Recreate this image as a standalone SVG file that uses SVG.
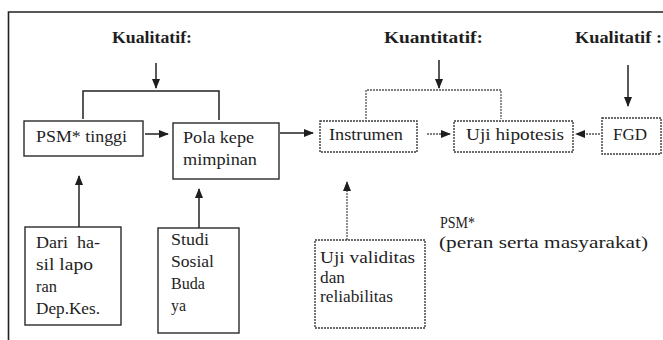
<svg xmlns="http://www.w3.org/2000/svg" width="663" height="340" viewBox="0 0 663 340">
<defs>
<marker id="ah" markerWidth="10" markerHeight="8" refX="9" refY="4" orient="auto" markerUnits="userSpaceOnUse">
<path d="M0,0 L10,4 L0,8 Z" fill="#1e1e1e"/>
</marker>
<style>
.t{font-family:'Liberation Serif','Times New Roman',serif;font-size:16.5px;fill:#1e1e1e}
.b{font-weight:bold;font-size:16.5px}
.box{fill:none;stroke:#2a2a2a;stroke-width:1.4}
.dbox{fill:none;stroke:#3a3a3a;stroke-width:1.4;stroke-dasharray:2 1}
.ln{fill:none;stroke:#222;stroke-width:1.5}
.dl{fill:none;stroke:#555;stroke-width:1.3;stroke-dasharray:2 1}
</style>
</defs>
<rect width="663" height="340" fill="#ffffff"/>
<g id="frame">
<path d="M8.5,340 V12 H663" fill="none" stroke="#222" stroke-width="1.6"/>
</g>
<g id="labels">
<text class="t b" x="112" y="43" textLength="80" lengthAdjust="spacingAndGlyphs">Kualitatif:</text>
<text class="t b" x="384" y="43" textLength="99" lengthAdjust="spacingAndGlyphs">Kuantitatif:</text>
<text class="t b" x="575" y="43" textLength="87" lengthAdjust="spacingAndGlyphs">Kualitatif :</text>
<text class="t" x="440" y="228" textLength="35" lengthAdjust="spacingAndGlyphs">PSM*</text>
<text class="t" x="439" y="248" textLength="209" lengthAdjust="spacingAndGlyphs">(peran serta masyarakat)</text>
</g>
<g id="connectors">
<path class="ln" d="M156,63 V88" marker-end="url(#ah)"/>
<path class="ln" d="M83,119 V91 H219 V120"/>
<path class="ln" d="M145,134 H168" marker-end="url(#ah)"/>
<path class="ln" d="M280,133 H313" marker-end="url(#ah)"/>
<path class="ln" d="M439,60 V88" marker-end="url(#ah)"/>
<path class="dl" d="M366,119 V90 H501 V119"/>
<path class="dl" d="M427,134 H450" marker-end="url(#ah)"/>
<path class="dl" d="M600,134 H576" marker-end="url(#ah)"/>
<path class="ln" d="M628,65 V106" marker-end="url(#ah)"/>
<path class="ln" d="M79,227 V176" marker-end="url(#ah)"/>
<path class="ln" d="M199,228 V189" marker-end="url(#ah)"/>
<path class="dl" d="M347,240 V182" marker-end="url(#ah)"/>
</g>
<g id="psm">
<rect class="box" x="24" y="121" width="119" height="35"/>
<text class="t" x="36" y="142" textLength="91" lengthAdjust="spacingAndGlyphs">PSM* tinggi</text>
</g>
<g id="pola">
<rect class="box" x="173" y="123" width="106" height="56"/>
<text class="t" x="183" y="143" textLength="71" lengthAdjust="spacingAndGlyphs">Pola kepe</text>
<text class="t" x="183" y="165" textLength="74" lengthAdjust="spacingAndGlyphs">mimpinan</text>
</g>
<g id="instrumen">
<rect class="dbox" x="320" y="121" width="97" height="31"/>
<text class="t" x="329" y="140" textLength="74" lengthAdjust="spacingAndGlyphs">Instrumen</text>
</g>
<g id="uji">
<rect class="dbox" x="454" y="121" width="119" height="31"/>
<text class="t" x="466" y="140" textLength="98" lengthAdjust="spacingAndGlyphs">Uji hipotesis</text>
</g>
<g id="fgd">
<rect class="dbox" x="602" y="118" width="59" height="36"/>
<text class="t" x="613" y="140" textLength="34" lengthAdjust="spacingAndGlyphs">FGD</text>
</g>
<g id="dari">
<rect class="box" x="25" y="227" width="96" height="98"/>
<text class="t" x="36" y="248" textLength="64" lengthAdjust="spacingAndGlyphs" xml:space="preserve">Dari  ha-</text>
<text class="t" x="36" y="270" textLength="57" lengthAdjust="spacingAndGlyphs">sil lapo</text>
<text class="t" x="36" y="292" textLength="21" lengthAdjust="spacingAndGlyphs">ran</text>
<text class="t" x="36" y="314" textLength="64" lengthAdjust="spacingAndGlyphs">Dep.Kes.</text>
</g>
<g id="studi">
<rect class="box" x="158" y="228" width="81" height="105"/>
<text class="t" x="171" y="245" textLength="38" lengthAdjust="spacingAndGlyphs">Studi</text>
<text class="t" x="171" y="267" textLength="43" lengthAdjust="spacingAndGlyphs">Sosial</text>
<text class="t" x="171" y="289" textLength="34" lengthAdjust="spacingAndGlyphs">Buda</text>
<text class="t" x="171" y="311" textLength="15" lengthAdjust="spacingAndGlyphs">ya</text>
</g>
<g id="validitas">
<rect class="dbox" x="315" y="240" width="110" height="88"/>
<text class="t" x="320" y="263" textLength="95" lengthAdjust="spacingAndGlyphs">Uji validitas</text>
<text class="t" x="320" y="283" textLength="25" lengthAdjust="spacingAndGlyphs">dan</text>
<text class="t" x="320" y="302" textLength="73" lengthAdjust="spacingAndGlyphs">reliabilitas</text>
</g>
</svg>
